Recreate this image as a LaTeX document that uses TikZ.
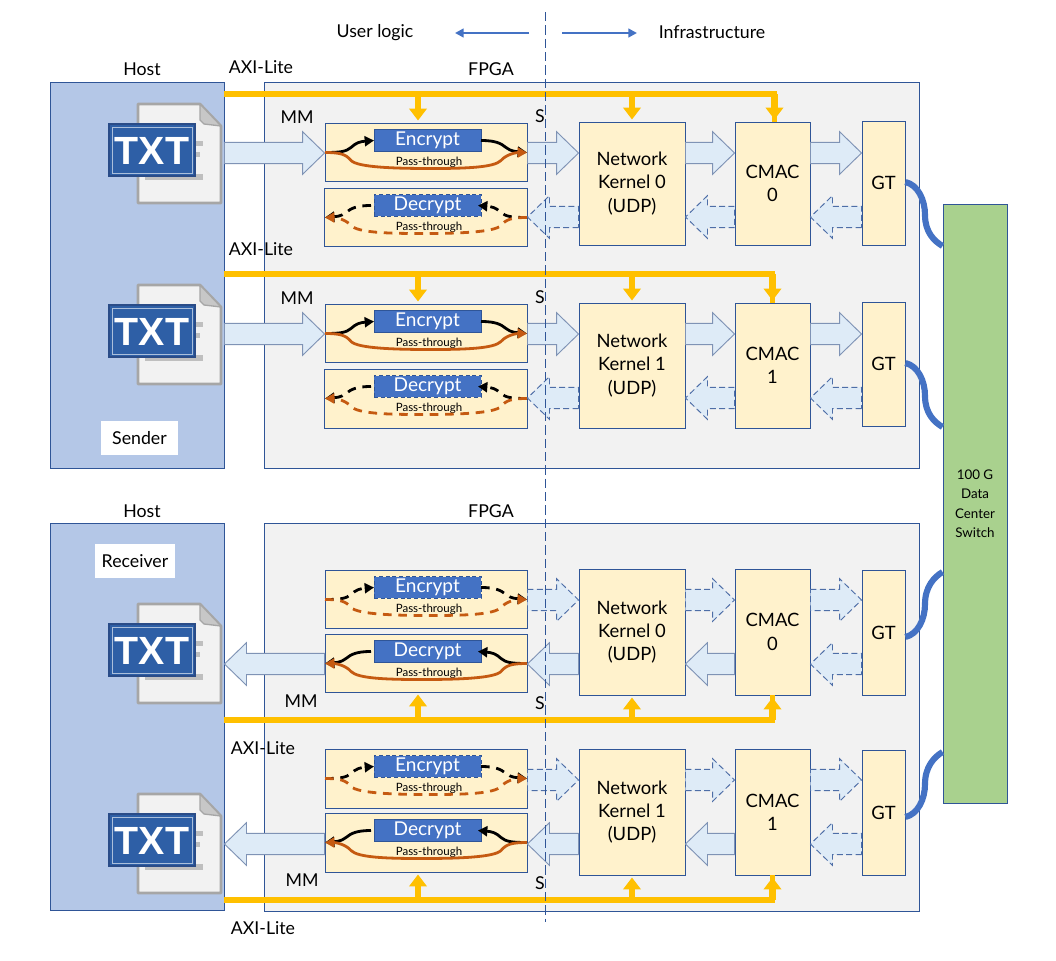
\documentclass[tikz,border=0pt]{standalone}
\usepackage{fontspec}
\setmainfont{Lato}
\newfontfamily\txtfont{Liberation Sans}
\usetikzlibrary{calc,arrows.meta}
\definecolor{linkblue}{HTML}{4472C4}
\definecolor{edgeblue}{HTML}{2F5597}
\definecolor{fatfill}{HTML}{DEEBF7}
\definecolor{fatedge}{HTML}{7F93B5}
\definecolor{panelfill}{HTML}{FFF2CC}
\definecolor{hostfill}{HTML}{B4C7E7}
\definecolor{fpgafill}{HTML}{F2F2F2}
\definecolor{switchfill}{HTML}{A9D18E}
\definecolor{axiorange}{HTML}{FFC000}
\definecolor{brownpath}{HTML}{C55A11}
\definecolor{txtblue}{HTML}{2E5FA6}
\tikzset{
  x=0.75pt,y=-0.75pt,
  txt/.style={font=\fontsize{13.3pt}{15pt}\selectfont,inner sep=0pt,align=center},
  hostbox/.style={draw=edgeblue,fill=hostfill,line width=0.7pt},
  fpgabox/.style={draw=edgeblue,fill=fpgafill,line width=0.7pt},
  ipbox/.style={draw=edgeblue,fill=panelfill,line width=0.7pt,align=center,font=\fontsize{13.8pt}{17.5pt}\selectfont},
  panelbox/.style={draw=edgeblue,fill=panelfill,line width=0.7pt},
  cryptsolid/.style={draw=edgeblue,fill=linkblue,line width=0.4pt,text=white,font=\fontsize{14.3pt}{15pt}\selectfont},
  cryptdash/.style={draw=edgeblue,densely dashed,fill=linkblue,line width=0.4pt,text=white,font=\fontsize{14.3pt}{15pt}\selectfont},
  switchbox/.style={draw=edgeblue,fill=switchfill,line width=0.7pt,align=center,font=\fontsize{10pt}{14.6pt}\selectfont},
  labelbox/.style={fill=white,font=\fontsize{13.3pt}{15pt}\selectfont},
  fatsolid/.style={draw=fatedge,fill=fatfill,line width=0.7pt,line join=miter},
  fatdash/.style={draw=edgeblue!85!white,fill=fatfill,line width=0.7pt,dash pattern=on 4.5pt off 2.5pt},
  pathsolid/.style={line width=2.1pt},
  pathdash/.style={line width=2.1pt,dash pattern=on 6.5pt off 5pt},
  flowtip/.style={-{Triangle[width=7.5pt,length=7pt]}},
  axi/.style={draw=axiorange,line width=4pt},
  axitip/.style={draw=axiorange,line width=5pt,-{Triangle[width=13pt,length=9pt,fill=axiorange]},shorten >=1.5pt},
  serial/.style={draw=linkblue,line width=4.6pt},
  side/.style={draw=linkblue,line width=2pt,-{Triangle[width=6.5pt,length=6.5pt]}},
  divider/.style={draw=edgeblue,line width=0.6pt,dash pattern=on 7pt off 3pt},
  pagebody/.style={draw=black!35,line width=2pt,fill=black!5,line join=round},
  pagefold/.style={draw=black!35,line width=1pt,fill=black!22,line join=round},
  pagebar/.style={fill=black!25},
}
\newcommand\bx[7]{%
  \pgfmathsetmacro\bw{((#4)-(#2))*0.75}\pgfmathsetmacro\bh{((#5)-(#3))*0.75}%
  \node[#6,inner sep=0pt,minimum width=\bw pt,minimum height=\bh pt] (#1) at ({((#2)+(#4))/2},{((#3)+(#5))/2}) {#7};}
% block arrow from spec #1 to spec #2
\newcommand\fat[3]{%
  \coordinate (fa) at (#1);\coordinate (fb) at (#2);
  \coordinate (fh) at ($(fb)!16.5pt!(fa)$);
  \draw[#3] ($(fa)!8pt!90:(fb)$) -- ($(fh)!8pt!90:(fb)$) -- ($(fh)!16pt!90:(fb)$) -- (fb)
    -- ($(fh)!16pt!-90:(fb)$) -- ($(fh)!8pt!-90:(fb)$) -- ($(fa)!8pt!-90:(fb)$) -- cycle;}
% crypt panel: id, x1, y1, x2, y2, label, box style, path style, direction
\newcommand\crypt[9]{%
  \bx{#1}{#2}{#3}{#4}{#5}{panelbox}{}
  \pgfmathsetmacro\cx{426}\pgfmathsetmacro\cy{#3+29.5}
  \bx{#1b}{\cx-52}{#3+6.5}{\cx+55}{#3+28}{#7}{#6}
  \node[font=\fontsize{8.6pt}{10pt}\selectfont,inner sep=0pt] (#1p) at (\cx+3,#3+39.5) {Pass-through};
  \begin{scope}[shift={(\cx,\cy)},xscale=#9]
    \draw[#8,black,flowtip] (-101,0) .. controls (-85,0) and (-80,-1) .. (-75,-5) .. controls (-70,-10) and (-65,-11) .. (-52,-12);
    \draw[#8,black,flowtip] (55,-12) .. controls (70,-12) and (75,-9) .. (80,-5) .. controls (85,-1) and (90,-1) .. (101,0);
    \draw[#8,brownpath,flowtip] (-101,0) .. controls (-85,0) and (-80,2) .. (-75,8) .. controls (-68,15) and (-30,16) .. (5,16) .. controls (40,16) and (68,15) .. (75,8) .. controls (80,2) and (90,0) .. (101,0);
  \end{scope}}
\newcommand\txticon[2]{%
  \begin{scope}[yshift=#2*-0.75pt]
    \draw[pagebody] (138,104) -- (200,104) -- (221,126) -- (221,203) -- (138,203) -- cycle;
    \draw[pagefold] (200,104) -- (221,126) -- (204,124) -- (200,120) -- cycle;
    \fill[pagebar] (195,141) rectangle (203,146);
    \fill[pagebar] (195,152) rectangle (200,157);
    \fill[pagebar] (145,174) rectangle (203,180);
    \bx{#1}{109}{124}{195}{176}{draw=edgeblue!90!black,fill=txtblue,line width=1.6pt}{}
    \draw[white!60!txtblue,line width=0.6pt] (112,127) rectangle (192,173);
    \node[text=white,font=\txtfont\bfseries\fontsize{29.5pt}{30pt}\selectfont,inner sep=0pt] (#1t) at (152,151) {TXT};
  \end{scope}}
% lane: id, kernel top, kernel bottom, number, upper style, lower style, lower-GT style, GT top, GT bottom
\newcommand\lane[9]{%
  \bx{#1k}{579}{#2}{685}{#3}{ipbox}{Network\\Kernel #4\\(UDP)}
  \bx{#1c}{735}{#2}{810}{#3}{ipbox}{CMAC\\#4}
  \bx{#1g}{862}{#8}{905}{#9}{ipbox}{GT}
  \pgfmathsetmacro\yu{#2+31}\pgfmathsetmacro\yl{#2+95}
  \fat{#1e.east |- 0,\yu}{#1k.west |- 0,\yu}{#5}
  \fat{#1k.east |- 0,\yu}{#1c.west |- 0,\yu}{#5}
  \fat{#1c.east |- 0,\yu}{#1g.west |- 0,\yu}{#5}
  \fat{#1g.west |- 0,\yl}{#1c.east |- 0,\yl}{#7}
  \fat{#1c.west |- 0,\yl}{#1k.east |- 0,\yl}{#6}
  \fat{#1k.west |- 0,\yl}{#1d.east |- 0,\yl}{#6}}
\newcommand\txtat[3]{\node[txt] (#1) at (#2) {#3};}
\begin{document}
\begin{tikzpicture}
\useasboundingbox (0,0) rectangle (1056,960);
\fill[white] (0,0) rectangle (1056,960);
% hosts and FPGAs
\bx{hostA}{50}{82}{224}{468}{hostbox}{}
\bx{fpgaA}{264}{82}{919}{468}{fpgabox}{}
\bx{hostB}{50}{523}{224}{910}{hostbox}{}
\bx{fpgaB}{264}{523}{919}{911}{fpgabox}{}
\bx{switch}{943}{204}{1007}{803}{switchbox}{100 G\\Data\\Center\\Switch}
% panels
\crypt{ae}{325}{123}{527}{181}{Encrypt}{cryptsolid}{pathsolid}{1}
\crypt{ad}{324}{188}{527}{246}{Decrypt}{cryptdash}{pathdash}{-1}
\crypt{be}{325}{304}{527}{362}{Encrypt}{cryptsolid}{pathsolid}{1}
\crypt{bd}{324}{369}{527}{428}{Decrypt}{cryptdash}{pathdash}{-1}
\crypt{ce}{325}{570}{527}{628}{Encrypt}{cryptdash}{pathdash}{1}
\crypt{cd}{325}{634}{527}{692}{Decrypt}{cryptsolid}{pathsolid}{-1}
\crypt{de}{325}{749}{527}{808}{Encrypt}{cryptdash}{pathdash}{1}
\crypt{dd}{325}{813}{527}{872}{Decrypt}{cryptsolid}{pathsolid}{-1}
% lanes
\lane{a}{122}{245}{0}{fatsolid}{fatdash}{fatdash}{121}{245}
\lane{b}{303}{428}{1}{fatsolid}{fatdash}{fatdash}{302}{426}
\lane{c}{569}{695}{0}{fatdash}{fatsolid}{fatdash}{570}{695}
\lane{d}{749}{875}{1}{fatdash}{fatsolid}{fatdash}{750}{875}
% host block arrows
\fat{hostA.east |- 0,153}{ae.west |- 0,153}{fatsolid}
\fat{hostA.east |- 0,334}{be.west |- 0,334}{fatsolid}
\fat{cd.west |- 0,664}{hostB.east |- 0,664}{fatsolid}
\fat{dd.west |- 0,844}{hostB.east |- 0,844}{fatsolid}
% AXI-Lite
\draw[axi] (hostA.east |- 0,94) -| ([xshift=1.5pt]ac.north);
\draw[axitip] ([xshift=-6pt]ae.north |- 0,94) -- ([xshift=-6pt]ae.north);
\draw[axitip] (ak.north |- 0,94) -- (ak.north);
\draw[axitip] ([xshift=1.5pt]ac.north |- 0,94) -- ([xshift=1.5pt]ac.north);
\draw[axi] (hostA.east |- 0,274) -| ([xshift=0pt]bc.north);
\draw[axitip] ([xshift=-6pt]be.north |- 0,274) -- ([xshift=-6pt]be.north);
\draw[axitip] (bk.north |- 0,274) -- (bk.north);
\draw[axitip] (bc.north |- 0,274) -- (bc.north);
\draw[axi] (hostB.east |- 0,720) -| (cc.south);
\draw[axitip] ([xshift=-6pt]cd.south |- 0,720) -- ([xshift=-6pt]cd.south);
\draw[axitip] (ck.south |- 0,720) -- (ck.south);
\draw[axitip] (cc.south |- 0,720) -- (cc.south);
\draw[axi] (hostB.east |- 0,900) -| (dc.south);
\draw[axitip] ([xshift=-6pt]dd.south |- 0,900) -- ([xshift=-6pt]dd.south);
\draw[axitip] (dk.south |- 0,900) -- (dk.south);
\draw[axitip] (dc.south |- 0,900) -- (dc.south);
% GT to switch
\coordinate (sa) at (switch.west |- 0,246);
\coordinate (sb) at (switch.west |- 0,427);
\coordinate (sc) at (switch.west |- 0,572);
\coordinate (sd) at (switch.west |- 0,752);
\draw[serial] (ag.east |- 0,182) .. controls (918,185) and (925,200) .. (925,215) .. controls (925,232) and (934,241) .. (sa);
\draw[serial] (bg.east |- 0,363) .. controls (918,366) and (925,381) .. (925,396) .. controls (925,413) and (934,422) .. (sb);
\draw[serial] (cg.east |- 0,637) .. controls (918,634) and (925,619) .. (925,604) .. controls (925,587) and (934,577) .. (sc);
\draw[serial] (dg.east |- 0,817) .. controls (918,814) and (925,799) .. (925,784) .. controls (925,767) and (934,757) .. (sd);
% document icons
\txticon{iconA}{0}
\txticon{iconB}{181}
\txticon{iconC}{500}
\txticon{iconD}{690}
% white labels
\bx{sender}{101}{421}{178}{455}{labelbox}{Sender}
\bx{receiver}{95}{544}{175}{578}{labelbox}{Receiver}
% divider and legend
\coordinate (divtop) at (545,12);
\coordinate (divbot) at (545,922);
\draw[divider] (divtop) -- (divbot);
\txtat{ul}{375,33}{User logic}
\txtat{inf}{712,32}{Infrastructure}
\coordinate (ula) at (529,33);\coordinate (ulb) at (455,33);
\coordinate (ira) at (562,33);\coordinate (irb) at (637,33);
\draw[side] (ula) -- (ulb);
\draw[side] (ira) -- (irb);
% text labels
\txtat{h1}{142,69}{Host}
\txtat{al1}{261,67}{AXI-Lite}
\txtat{f1}{491,69}{FPGA}
\txtat{m1}{297,117}{MM}
\txtat{s1}{540,116}{S}
\txtat{al2}{261,249}{AXI-Lite}
\txtat{m2}{297,298}{MM}
\txtat{s2}{540,297}{S}
\txtat{h2}{142,511}{Host}
\txtat{f2}{491,511}{FPGA}
\txtat{m3}{301,701}{MM}
\txtat{s3}{540,703}{S}
\txtat{al3}{263,748}{AXI-Lite}
\txtat{m4}{302,880}{MM}
\txtat{s4}{540,883}{S}
\txtat{al4}{263,928}{AXI-Lite}
\end{tikzpicture}
\end{document}
